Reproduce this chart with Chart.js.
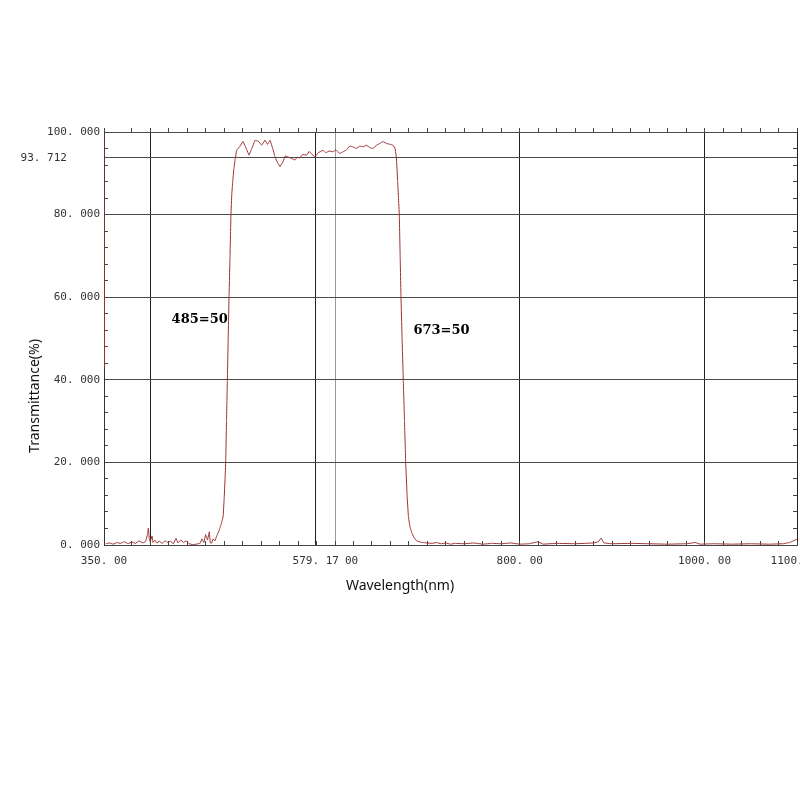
<!DOCTYPE html>
<html>
<head>
<meta charset="utf-8">
<script src="https://cdn.jsdelivr.net/npm/chart.js@4.4.0/dist/chart.umd.min.js"></script>
<style>
  html, body { margin: 0; padding: 0; background: #fff; }
  #wrap { width: 800px; height: 800px; }
</style>
</head>
<body>
<div id="wrap"><canvas id="c" width="800" height="800"></canvas></div>
<script>
var wavelength = [
  350, 350.6, 351,
  352, 356, 360, 364, 368, 372, 376, 380, 384, 388, 392, 395, 397, 398, 399, 400,
  402, 403, 405, 407, 410, 413, 416, 419, 422, 425, 428, 430, 433, 436, 439, 442,
  446, 450, 454, 456, 458, 460, 462, 464, 465, 466.6, 468, 470, 472, 473.7, 476,
  478, 479, 480, 481, 481.7, 482.6, 483.5, 484.4, 485.3, 486.4, 487.4, 488.3, 489.3,
  490.5, 492, 493.6, 497, 500.4, 503, 506.9, 510, 513.4, 516.7, 520.7, 524.2, 527,
  529.7, 532.6, 535, 538, 540.5, 543.7, 546, 549, 556.7, 559, 562, 565, 569.4, 572,
  575, 578.3, 582, 587, 590, 594, 597.8, 601, 605, 608.7, 612, 616, 619.5, 623, 627,
  630.3, 634, 638, 641.1, 645, 649, 652, 656, 660, 662.8, 665, 666.5, 667.8, 668.7,
  669.6, 670.5, 671.4, 672.6, 673.9, 675.2, 676.5, 678, 679.4, 681, 683, 685.5, 688.4,
  692, 695, 699, 705, 710, 715, 720, 725, 730, 740, 750, 760, 770, 780, 790, 800, 810,
  820, 825, 840, 860, 880, 885, 888, 891, 900, 920, 940, 960, 980, 990, 995, 1010,
  1030, 1050, 1070, 1085, 1092, 1096, 1100
];
var transmittance = [
  100, 43, null,
  0.3, 0.5, 0.2, 0.6, 0.4, 0.8, 0.3, 0.7, 0.4, 1.0, 0.5, 0.8, 2.5, 4.1, 1.5, 0.8,
  2.2, 0.6, 1.2, 0.5, 0.9, 0.4, 1.0, 0.6, 0.9, 0.3, 1.6, 0.5, 1.2, 0.6, 1.0, 0.3,
  0.1, 0.2, 0.4, 1.5, 0.6, 2.5, 1.2, 3.2, 0.5, 0.5, 1.5, 1.0, 2.2, 3.0, 4.5,
  6, 7, 11, 16, 20, 30, 40, 50, 60, 70, 80, 85, 88,
  91, 93.5, 95.6, 96.5, 97.7, 96.5, 94.4, 96, 98, 97.8, 96.8, 98, 97,
  98, 96, 94, 92.5, 91.6, 92.8, 94.2, 94.0, 93.2, 93.9, 93.7, 94.6, 94.4, 95.3,
  94.6, 94.0, 95.0, 95.6, 95.0, 95.4, 95.2, 95.7, 94.8, 95.2, 95.6, 96.6, 96.4, 96.0, 96.6,
  96.4, 96.8, 96.2, 96.0, 96.8, 97.3, 97.7, 97.2, 97.0, 96.8, 96.0, 93.7, 88, 84,
  80, 70, 60, 50, 40, 30, 20, 12, 7, 4.5, 3.0, 1.8, 1.0,
  0.7, 0.6, 0.5, 0.4, 0.6, 0.3, 0.5, 0.2, 0.4, 0.3, 0.5, 0.2, 0.4, 0.3, 0.5, 0.2, 0.3,
  0.8, 0.2, 0.4, 0.3, 0.5, 0.8, 1.7, 0.5, 0.3, 0.4, 0.3, 0.2, 0.3, 0.6, 0.2, 0.3,
  0.2, 0.3, 0.2, 0.3, 0.6, 1.0, 1.4
];

var xTickValues = [350, 400, 600, 579.17, 800, 1000, 1100];
var xTickLabels = ['350. 00', '', '600. 00', '579. 17', '800. 00', '1000. 00', '1100. 00'];
var yTickValues = [0, 20, 40, 60, 80, 93.712, 100];
var yTickLabels = ['0. 000', '20. 000', '40. 000', '60. 000', '80. 000', '93. 712     ', '100. 000'];

var noteWavelengths = [485, 673];
var noteTexts = ['485=50', '673=50'];
var xTitle = 'Wavelength(nm)';
var yTitle = 'Transmittance(%)';

var points = [];
for (var i = 0; i < wavelength.length; i++) {
  points.push({ x: wavelength[i], y: transmittance[i] });
}

var tickFont = { family: '"DejaVu Sans Mono", monospace', size: 11 };

var textPlugin = {
  id: 'texts',
  afterDraw: function(chart) {
    var ctx = chart.ctx, xs = chart.scales.x, ys = chart.scales.y;
    ctx.save();
    ctx.fillStyle = '#111';
    ctx.font = '14px "Noto Sans", sans-serif';
    ctx.textAlign = 'center';
    ctx.textBaseline = 'middle';
    ctx.fillText(xTitle, 400, 586);
    ctx.save();
    ctx.translate(35, 396);
    ctx.rotate(-Math.PI / 2);
    ctx.fillText(yTitle, 0, 0);
    ctx.restore();

    ctx.font = 'bold 13px "DejaVu Serif", serif';
    ctx.fillStyle = '#000';
    ctx.textAlign = 'right';
    ctx.fillText(noteTexts[0], xs.getPixelForValue(noteWavelengths[0]) - 1, ys.getPixelForValue(54.5));
    ctx.textAlign = 'left';
    ctx.fillText(noteTexts[1], xs.getPixelForValue(noteWavelengths[1]) + 11, ys.getPixelForValue(52));
    ctx.restore();
  }
};

function minorAxis(axis, pos, step, len, min, max) {
  return {
    type: 'linear', axis: axis, position: pos, min: min, max: max,
    ticks: { display: false, stepSize: step },
    grid: { drawOnChartArea: false, drawTicks: true, tickLength: len, color: '#444', lineWidth: 1 },
    border: { display: false }
  };
}

var ctx = document.getElementById('c').getContext('2d');
var chart = new Chart(ctx, {
  type: 'line',
  data: {
    datasets: [{
      data: points,
      borderColor: '#9c3030',
      borderWidth: 1,
      pointRadius: 0,
      tension: 0.001,
      spanGaps: false,
      fill: false
    }]
  },
  options: {
    responsive: false,
    animation: false,
    layout: { padding: { left: 0, top: 132, right: 3, bottom: 225 } },
    plugins: { legend: { display: false }, tooltip: { enabled: false } },
    scales: {
      x: {
        type: 'linear', position: 'bottom', min: 350, max: 1100,
        afterBuildTicks: function(s) {
          s.ticks = xTickValues.map(function(v) { return { value: v }; });
        },
        afterFit: function(s) { s.height = 30; s.paddingLeft = 0; s.paddingRight = 0; },
        ticks: {
          autoSkip: false, maxRotation: 0, padding: 10, color: '#333', font: tickFont,
          callback: function(v, i) { return xTickLabels[i]; },
          showLabelBackdrop: function(c) { return c.tick && c.tick.value === 579.17; },
          backdropColor: '#fff',
          backdropPadding: { left: 0, right: 0, top: 1, bottom: 1 }
        },
        grid: {
          drawTicks: false,
          color: function(c) {
            var v = c.tick ? c.tick.value : 0;
            if (v === 600) return '#9a9a9a';
            return '#222';
          }
        },
        border: { color: '#444' }
      },
      y: {
        type: 'linear', position: 'left', min: 0, max: 100,
        afterBuildTicks: function(s) {
          s.ticks = yTickValues.map(function(v) { return { value: v }; });
        },
        afterFit: function(s) { s.width = 104; s.paddingTop = 0; s.paddingBottom = 0; },
        ticks: {
          autoSkip: false, padding: 4, color: '#333', font: tickFont,
          callback: function(v, i) { return yTickLabels[i]; }
        },
        grid: { drawTicks: false, color: '#4a4a4a' },
        border: { color: '#333' }
      },
      xMinorB: minorAxis('x', { y: 0 }, 20, -4, 350, 1100),
      xMinorT: minorAxis('x', { y: 100 }, 20, -4, 350, 1100),
      yMinorL: minorAxis('y', { x: 350 }, 4, -4, 0, 100),
      yMinorR: minorAxis('y', { x: 1100 }, 4, 4, 0, 100)
    }
  },
  plugins: [textPlugin]
});
</script>
</body>
</html>
